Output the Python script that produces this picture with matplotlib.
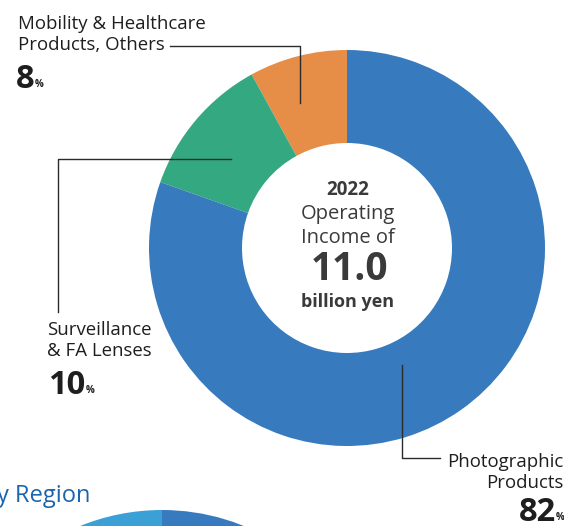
import matplotlib.pyplot as plt

# segment shares as drawn (wedge sizes), and the printed percentages
segments = ["Mobility & Healthcare\nProducts, Others", "Surveillance\n& FA Lenses", "Photographic\nProducts"]
shares = [8.0, 11.6, 80.4]
pct_labels = ["8", "10", "82"]
colors = ["#E68D48", "#34A881", "#377BBE"]

year = "2022"
income = "11.0"

# second (cut off) chart below: by region
region_shares = [25, 75]
region_colors = ["#3AA0D6", "#377BBE"]

W, H = 564, 526
fig = plt.figure(figsize=(W / 100, H / 100), dpi=100)
ax = fig.add_axes([0, 0, 1, 1])
plt.rcParams['font.family'] = ['Open Sans', 'DejaVu Sans']

def Y(y):
    return H - y

# main donut
ax.pie(shares, colors=colors, startangle=90, counterclock=True,
       center=(347, Y(248)), radius=198,
       wedgeprops=dict(width=93, linewidth=0))

# cut-off donut at the bottom
ax.pie(region_shares, colors=region_colors, startangle=90, counterclock=True,
       center=(162, Y(728)), radius=218,
       wedgeprops=dict(width=100, linewidth=0))

# leader lines
lc = "#2b2b2b"
ax.plot([170, 300, 300], [Y(46), Y(46), Y(103)], color=lc, lw=1.0)
ax.plot([58, 58, 231], [Y(312), Y(159), Y(159)], color=lc, lw=1.0)
ax.plot([402, 402, 440], [Y(365), Y(458), Y(458)], color=lc, lw=1.0)

tc = "#1e1e1e"
lab = 13.4


def pct(x, y, s, ha):
    t = ax.text(x, y, s, fontsize=23.5, fontweight="bold", color=tc, ha=ha, va="baseline")
    ax.annotate("%", xy=(1, 0), xycoords=t, xytext=(0, 9), textcoords="offset pixels",
                fontsize=7, fontweight="bold", color=tc, va="baseline")


# mobility
ax.text(18, Y(50), segments[0], fontsize=lab, color=tc, ha="left", va="baseline", linespacing=1.18)
pct(16, Y(88), pct_labels[0], "left")
# surveillance
ax.text(47, Y(356), segments[1], fontsize=lab, color=tc, ha="left", va="baseline", linespacing=1.18)
pct(48, Y(394), pct_labels[1], "left")
# photographic
ax.text(563, Y(488), segments[2], fontsize=lab, color=tc, ha="right", va="baseline",
        linespacing=1.18, multialignment="right")
pct(556, Y(521), pct_labels[2], "right")

# center text
cc = "#3a3a3a"
ax.text(348, Y(190), year, fontsize=13.5, fontweight="bold", color=cc, ha="center", va="center")
ax.text(348, Y(214), "Operating", fontsize=14.5, color=cc, ha="center", va="center")
ax.text(348, Y(238), "Income of", fontsize=14.5, color=cc, ha="center", va="center")
ax.text(349, Y(270), income, fontsize=28, fontweight="bold", color=cc, ha="center", va="center")
ax.text(348, Y(302), "billion yen", fontsize=13, fontweight="bold", color=cc, ha="center", va="center")

# cut-off heading
ax.text(-3, Y(502), "y Region", fontsize=17, color="#1B64AE", ha="left", va="baseline")

ax.set_xlim(0, W)
ax.set_ylim(0, H)
ax.set_aspect("auto")
ax.axis("off")

fig.savefig("out.png", dpi=100)
